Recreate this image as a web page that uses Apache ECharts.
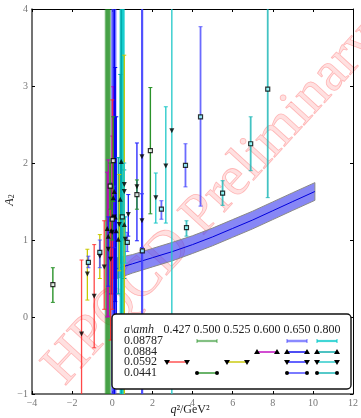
<!DOCTYPE html>
<html><head><meta charset="utf-8">
<script src="https://cdn.jsdelivr.net/npm/echarts@6/dist/echarts.min.js"></script>
<style>html,body{margin:0;padding:0;background:#fff}#c{width:361px;height:418px}</style>
</head><body><div id="c"></div>
<script>
// ---- data: each point is [q2, A2, errLow, errHigh] ----
const d08787_500 = [[-0.32,1.0,-3,6],[-0.27,1.2,-3,6],[-0.22,1.4,-3,6],[-0.17,1.1,-3,6],[-0.12,0.9,-3,6]];
const d08787_650 = [[0.0,1.2,-3,6],[0.05,1.1,-3,6],[0.1,0.9,-3,6],[0.15,1.5,-3,6]];
const d08787_800 = [[0.42,1.3,-3,6],[0.47,1.1,-3,6],[0.52,0.8,-3,6],[0.57,1.6,-3,6]];
const d0884_600 = [[-0.25,1.15,0.0,1.88],[-0.2,1.05,0.01,2.04],[0.0,1.3,0.3,2.35],[0.05,1.55,0.5,2.99]];
const d0884_650 = [[0.1,1.63,-1.5,4.5],[0.15,1.3,0.2,3.24],[0.2,1.12,0.0,2.6],[-0.05,1.12,0.3,1.74]];
const d0884_800 = [[0.45,2.02,-1.5,4.5],[0.4,1.53,0.7,3.15],[0.3,1.01,0.3,2.07],[0.6,1.2,0.5,1.91]];
const d0592_427 = [[-1.53,-0.22,-1.5,0.74],[-0.9,0.27,-0.4,0.94],[-0.4,0.65,0.1,1.25],[0.0,1.1,0.1,2.82],[-0.08,0.75,-0.3,1.72]];
const d0592_525 = [[-1.24,0.56,0.22,0.88],[-0.62,0.79,0.5,1.07],[0.6,1.72,-1.5,3.4],[0.35,1.2,0.6,1.85]];
const d0592_650 = [[1.23,1.69,0.99,2.26],[1.48,2.08,-1.5,4.5],[1.48,1.25,0.9,1.6],[0.8,1.33,1.05,1.59],[-0.2,0.88,0.4,1.3],[0.1,1.3,0.9,1.7]];
const d0592_800 = [[2.17,1.55,1.22,1.87],[2.67,1.96,1.22,2.73],[2.97,2.42,-1.5,4.5],[0.65,1.01,0.7,1.3],[0.6,1.63,1.3,2.0]];
const d0441_500 = [[-2.96,0.42,0.19,0.64],[1.9,2.16,1.34,2.98],[1.23,1.59,1.4,1.78],[0.0,1.27,1.0,1.55],[0.05,2.03,1.5,2.6],[-0.1,1.7,1.4,2.0]];
const d0441_650 = [[-1.19,0.71,0.64,0.79],[-0.62,0.84,0.64,1.0],[3.65,1.97,1.69,2.25],[4.4,2.6,1.44,3.77],[2.45,1.4,1.27,1.51],[1.5,0.86,-1.5,4.5],[0.75,0.97,0.85,1.1]];
const d0441_800 = [[3.7,1.16,1.05,1.25],[5.5,1.61,1.45,1.77],[6.9,2.25,1.9,2.6],[7.75,2.96,1.55,4.5],[0.5,1.3,1.0,1.6]];

// fit band
const bandX   = [0.25, 1, 2, 3, 4, 5, 6, 7, 8, 9, 10.1];
const bandMid = [0.63, 0.69, 0.77, 0.85, 0.94, 1.04, 1.15, 1.26, 1.38, 1.50, 1.63];
const bandLo  = [0.50, 0.57, 0.65, 0.73, 0.825, 0.925, 1.035, 1.145, 1.265, 1.385, 1.515];
const bandHi  = [0.77, 0.81, 0.89, 0.97, 1.055, 1.155, 1.265, 1.375, 1.495, 1.615, 1.745];

// legend table
const latticeSpacings = ['0.08787', '0.0884', '0.0592', '0.0441'];
const heavyMasses = ['0.427', '0.500', '0.525', '0.600', '0.650', '0.800'];
const xTicks = [-4, -2, 0, 2, 4, 6, 8, 10, 12];
const yTicks = [-1, 0, 1, 2, 3, 4];

const specs = [
  {data:d08787_500,row:0,col:1,color:'rgba(30,140,30,0.55)',w:2.2,marker:'none'},
  {data:d08787_650,row:0,col:4,color:'rgba(60,60,255,0.6)',w:2.5,marker:'none'},
  {data:d08787_800,row:0,col:5,color:'rgba(0,200,200,0.75)',w:2.2,marker:'none'},
  {data:d0884_600,row:1,col:3,color:'#bf00bf',w:1.2,marker:'up'},
  {data:d0884_650,row:1,col:4,color:'#0000ee',w:1.3,marker:'up'},
  {data:d0884_800,row:1,col:5,color:'#00a8a8',w:1.3,marker:'up'},
  {data:d0592_427,row:2,col:0,color:'rgba(255,40,40,0.85)',w:1.3,marker:'down'},
  {data:d0592_525,row:2,col:2,color:'#c8c800',w:1.3,marker:'down'},
  {data:d0592_650,row:2,col:4,color:'#2020ff',w:1.3,marker:'down'},
  {data:d0592_800,row:2,col:5,color:'#20c8c8',w:1.3,marker:'down'},
  {data:d0441_500,row:3,col:1,color:'#2a922a',w:1.4,marker:'circle'},
  {data:d0441_650,row:3,col:4,color:'rgba(70,70,255,0.8)',w:1.8,marker:'circle'},
  {data:d0441_800,row:3,col:5,color:'rgba(20,180,180,0.8)',w:1.8,marker:'circle'}
];

function errRender(color, w) {
  return function (params, api) {
    const x = api.value(0), lo = api.value(2), hi = api.value(3);
    const cs = params.coordSys;
    const pl = api.coord([x, lo]), ph = api.coord([x, hi]);
    const top = cs.y, bot = cs.y + cs.height;
    const y1 = Math.max(top, Math.min(bot, ph[1]));
    const y2 = Math.max(top, Math.min(bot, pl[1]));
    const children = [{type:'line',shape:{x1:pl[0],y1:y1,x2:pl[0],y2:y2},style:{stroke:color,lineWidth:w}}];
    [ph[1], pl[1]].forEach(function (yy) {
      if (yy >= top && yy <= bot) children.push({type:'line',shape:{x1:pl[0]-2,y1:yy,x2:pl[0]+2,y2:yy},style:{stroke:color,lineWidth:1}});
    });
    return {type:'group',children:children};
  };
}

const series = [];
// band
series.push({
  type:'custom', z:1, silent:true,
  data:[0],
  renderItem: function (params, api) {
    const pts = [];
    for (let i = 0; i < bandX.length; i++) pts.push(api.coord([bandX[i], bandHi[i]]));
    for (let i = bandX.length - 1; i >= 0; i--) pts.push(api.coord([bandX[i], bandLo[i]]));
    return {type:'polygon',shape:{points:pts},style:{fill:'rgba(70,70,240,0.65)',stroke:'#888',lineWidth:1}};
  }
});
series.push({type:'line',z:2,data:bandX.map((x,i)=>[x,bandMid[i]]),symbol:'none',lineStyle:{color:'#0000dd',width:1},silent:true});
specs.forEach(function (s) {
  series.push({type:'custom',z:3,clip:true,silent:true,data:s.data,encode:{x:0,y:1},renderItem:errRender(s.color,s.w)});
});
specs.forEach(function (s) {
  if (s.marker === 'none') return;
  series.push({
    type:'scatter', z:4, silent:true,
    data:s.data.map(p=>[p[0],p[1]]),
    symbol: s.marker === 'circle' ? 'rect' : 'triangle',
    symbolRotate: s.marker === 'down' ? 180 : 0,
    symbolSize: s.marker === 'circle' ? 4 : 5,
    itemStyle: s.marker === 'circle' ? {color:s.color.indexOf('rgba')===0?'#9ff':'#fff',borderColor:'#000',borderWidth:1.2} : {color:'#000'}
  });
});

const chart = echarts.init(document.getElementById('c'), null, {renderer:'canvas'});
const fmt = v => (v < 0 ? '\u2212' + (-v) : String(v));
const serif = '"Liberation Serif", "DejaVu Serif", serif';

// legend graphics
const colX = [177, 207, 237, 267, 297, 327];
const rowY = [341, 352, 362, 373];
const lg = [];
lg.push({type:'rect',shape:{x:112,y:314,width:239,height:75,r:4},style:{fill:'#fff',stroke:'#111',lineWidth:1.4},z:100});
lg.push({type:'text',x:124,y:330,style:{text:'a\\amh',font:'italic 12px '+serif,fill:'#222',textVerticalAlign:'middle',verticalAlign:'middle'},z:101});
heavyMasses.forEach((m,i)=>lg.push({type:'text',x:colX[i],y:330,style:{text:m,font:'12px '+serif,fill:'#222',textAlign:'center',align:'center',textVerticalAlign:'middle',verticalAlign:'middle'},z:101}));
latticeSpacings.forEach((a,i)=>lg.push({type:'text',x:124,y:rowY[i],style:{text:a,font:'12px '+serif,fill:'#222',textVerticalAlign:'middle',verticalAlign:'middle'},z:101}));
specs.forEach(function (s) {
  const cx = colX[s.col], cy = rowY[s.row];
  lg.push({type:'line',shape:{x1:cx-10,y1:cy,x2:cx+10,y2:cy},style:{stroke:s.color,lineWidth:Math.max(1.4,s.w)},z:101});
  [cx-10, cx+10].forEach(function (mx) {
    if (s.marker === 'none') {
      lg.push({type:'line',shape:{x1:mx,y1:cy-2,x2:mx,y2:cy+2},style:{stroke:s.color,lineWidth:1.2},z:102});
    } else if (s.marker === 'circle') {
      lg.push({type:'circle',shape:{cx:mx,cy:cy,r:2},style:{fill:'#000'},z:102});
    } else if (s.marker === 'up') {
      lg.push({type:'polygon',shape:{points:[[mx,cy-3],[mx-3,cy+2],[mx+3,cy+2]]},style:{fill:'#000'},z:102});
    } else {
      lg.push({type:'polygon',shape:{points:[[mx,cy+3],[mx-3,cy-2],[mx+3,cy-2]]},style:{fill:'#000'},z:102});
    }
  });
});

chart.setOption({
  animation:false,
  backgroundColor:'#fff',
  grid:{left:32,right:5,top:9,bottom:24,containLabel:false},
  xAxis:[
    {type:'value',min:-4,max:12,interval:2,position:'bottom',
     axisLine:{onZero:false,lineStyle:{color:'#444',width:1.5}},
     axisTick:{inside:true,length:3,lineStyle:{color:'#000'}},
     axisLabel:{formatter:fmt,color:'#777',fontSize:10,fontFamily:serif,margin:4},
     splitLine:{show:false}},
    {type:'value',min:-4,max:12,interval:2,position:'top',
     axisLine:{onZero:false,lineStyle:{color:'#000',width:1}},
     axisTick:{inside:true,length:3,lineStyle:{color:'#000'}},
     axisLabel:{show:false},splitLine:{show:false}}
  ],
  yAxis:[
    {type:'value',min:-1,max:4,interval:1,position:'left',
     axisLine:{show:true,onZero:false,lineStyle:{color:'#444',width:1.5}},
     axisTick:{show:true,inside:true,length:3,lineStyle:{color:'#000'}},
     axisLabel:{formatter:fmt,color:'#777',fontSize:10,fontFamily:serif,margin:4},
     splitLine:{show:false}},
    {type:'value',min:-1,max:4,interval:1,position:'right',
     axisLine:{show:true,onZero:false,lineStyle:{color:'#000',width:1}},
     axisTick:{show:true,inside:true,length:3,lineStyle:{color:'#000'}},
     axisLabel:{show:false},splitLine:{show:false}}
  ],
  graphic:[
    {type:'text',x:212,y:204,rotation:47.5*Math.PI/180,z:0,silent:true,
     style:{text:'HPQCD Preliminary',font:'56px '+serif,fill:'rgba(255,60,60,0.16)',stroke:'rgba(255,80,80,0.35)',lineWidth:0.8,
            textAlign:'center',align:'center',textVerticalAlign:'middle',verticalAlign:'middle'}},
    {type:'text',x:190,y:410,z:50,
     style:{text:'{q|q}{n|²/GeV²}',rich:{q:{font:'italic 12px '+serif,fill:'#222'},n:{font:'12px '+serif,fill:'#222'}},
            textAlign:'center',align:'center',textVerticalAlign:'middle',verticalAlign:'middle'}},
    {type:'text',x:10,y:200,rotation:Math.PI/2,z:50,
     style:{text:'{a|A}{s|2}',rich:{a:{font:'italic 12px '+serif,fill:'#222'},s:{font:'8px '+serif,fill:'#222',verticalAlign:'bottom'}},
            textAlign:'center',align:'center',textVerticalAlign:'middle',verticalAlign:'middle'}}
  ].concat(lg),
  series:series
});
</script></body></html>
